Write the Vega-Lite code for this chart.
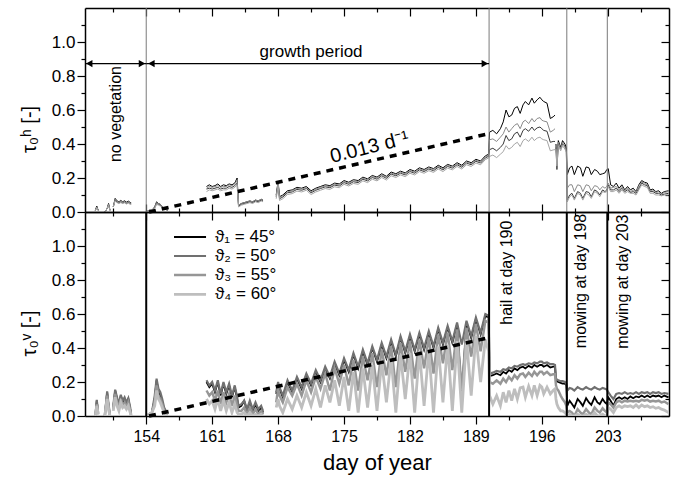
{
"$schema":"https://vega.github.io/schema/vega-lite/v6.json",
"background":"white",
"padding":{"left":19,"top":7,"right":6,"bottom":5},
"spacing":0,
"bounds":"flush",
"config":{"view":{"stroke":null},"font":"Liberation Sans",
"axis":{"domainColor":"black","domainWidth":1.5,"tickColor":"black","tickWidth":1.2,"labelColor":"black","titleColor":"black","grid":false,"labelFont":"Liberation Sans","titleFont":"Liberation Sans","titleFontWeight":"normal"},
"text":{"font":"Liberation Sans","color":"black"}},
"resolve":{"scale":{"color":"independent","strokeWidth":"independent"}},
"datasets":{
"obs":[
{"d":148.6,"h1":0.01,"h2":0.01,"h3":0.01,"h4":0.01,"v1":0,"v2":0,"v3":0,"v4":0},
{"d":148.75,"h1":0.035,"h2":0.03,"h3":0.03,"h4":0.025,"v1":0.09,"v2":0.095,"v3":0.07,"v4":0.06},
{"d":148.9,"h1":0.01,"h2":0.01,"h3":0.01,"h4":0.01,"v1":0.02,"v2":0.02,"v3":0.01,"v4":0.01},
{"d":149.2},
{"d":149.6,"h1":0,"h2":0,"h3":0,"h4":0,"v1":0,"v2":0,"v3":0,"v4":0},
{"d":149.85,"h1":0.02,"h2":0.02,"h3":0.02,"h4":0.02,"v1":0.14,"v2":0.145,"v3":0.12,"v4":0.1},
{"d":150.0,"h1":0.05,"h2":0.045,"h3":0.045,"h4":0.04,"v1":0.06,"v2":0.07,"v3":0.05,"v4":0.04},
{"d":150.15,"h1":0.01,"h2":0.01,"h3":0.01,"h4":0.01,"v1":0,"v2":0.01,"v3":0,"v4":0},
{"d":150.3},
{"d":150.5,"h1":0.03,"h2":0.03,"h3":0.03,"h4":0.03,"v1":0.05,"v2":0.06,"v3":0.04,"v4":0.03},
{"d":150.7,"h1":0.08,"h2":0.07,"h3":0.075,"h4":0.065,"v1":0.15,"v2":0.155,"v3":0.13,"v4":0.11},
{"d":150.9,"h1":0.065,"h2":0.058,"h3":0.062,"h4":0.055,"v1":0.1,"v2":0.11,"v3":0.08,"v4":0.06},
{"d":151.1,"h1":0.06,"h2":0.053,"h3":0.057,"h4":0.05,"v1":0.06,"v2":0.07,"v3":0.05,"v4":0.03},
{"d":151.3,"h1":0.068,"h2":0.06,"h3":0.064,"h4":0.055,"v1":0.12,"v2":0.125,"v3":0.1,"v4":0.08},
{"d":151.5,"h1":0.06,"h2":0.053,"h3":0.057,"h4":0.05,"v1":0.08,"v2":0.09,"v3":0.06,"v4":0.05},
{"d":151.7,"h1":0.066,"h2":0.058,"h3":0.062,"h4":0.054,"v1":0.1,"v2":0.11,"v3":0.08,"v4":0.06},
{"d":151.9,"h1":0.058,"h2":0.05,"h3":0.054,"h4":0.047,"v1":0.07,"v2":0.08,"v3":0.05,"v4":0.04},
{"d":152.1,"h1":0.064,"h2":0.056,"h3":0.06,"h4":0.052,"v1":0.1,"v2":0.105,"v3":0.08,"v4":0.06},
{"d":152.3,"h1":0.056,"h2":0.05,"h3":0.053,"h4":0.045,"v1":0.04,"v2":0.05,"v3":0.03,"v4":0.02},
{"d":152.4,"h1":0.055,"h2":0.048,"h3":0.05,"h4":0.044,"v1":0,"v2":0.01,"v3":0,"v4":0},
{"d":153.0},
{"d":154.0,"h1":0,"h2":0,"h3":0,"h4":0,"v1":0,"v2":0,"v3":0,"v4":0},
{"d":154.3,"h1":0.01,"h2":0.01,"h3":0.01,"h4":0.01,"v1":0.01,"v2":0.01,"v3":0.01,"v4":0.01},
{"d":154.6,"h1":0.01,"h2":0.01,"h3":0.01,"h4":0.01,"v1":0.02,"v2":0.02,"v3":0.02,"v4":0.02},
{"d":154.9,"h1":0.03,"h2":0.025,"h3":0.03,"h4":0.02,"v1":0.1,"v2":0.12,"v3":0.08,"v4":0.06},
{"d":155.1,"h1":0.06,"h2":0.05,"h3":0.055,"h4":0.045,"v1":0.21,"v2":0.22,"v3":0.18,"v4":0.15},
{"d":155.3,"h1":0.05,"h2":0.045,"h3":0.05,"h4":0.04,"v1":0.14,"v2":0.16,"v3":0.12,"v4":0.1},
{"d":155.5,"h1":0.045,"h2":0.04,"h3":0.045,"h4":0.035,"v1":0.12,"v2":0.14,"v3":0.1,"v4":0.08},
{"d":155.7,"h1":0.03,"h2":0.03,"h3":0.03,"h4":0.025,"v1":0.08,"v2":0.1,"v3":0.07,"v4":0.05},
{"d":155.9,"h1":0.02,"h2":0.02,"h3":0.02,"h4":0.02,"v1":0.04,"v2":0.05,"v3":0.03,"v4":0.02},
{"d":156.1,"h1":0.015,"h2":0.015,"h3":0.015,"h4":0.015,"v1":0.02,"v2":0.03,"v3":0.01,"v4":0.01},
{"d":156.3,"h1":0.01,"h2":0.01,"h3":0.01,"h4":0.01,"v1":0.01,"v2":0.01,"v3":0.01,"v4":0.01},
{"d":158.0},
{"d":160.4,"h1":0.15,"h2":0.135,"h3":0.14,"h4":0.12,"v1":0.2,"v2":0.21,"v3":0.15,"v4":0.1},
{"d":160.7,"h1":0.16,"h2":0.14,"h3":0.15,"h4":0.13,"v1":0.17,"v2":0.18,"v3":0.12,"v4":0.07},
{"d":161.0,"h1":0.15,"h2":0.135,"h3":0.145,"h4":0.125,"v1":0.19,"v2":0.2,"v3":0.14,"v4":0.09},
{"d":161.3,"h1":0.155,"h2":0.14,"h3":0.15,"h4":0.13,"v1":0.14,"v2":0.15,"v3":0.09,"v4":0.04},
{"d":161.6,"h1":0.165,"h2":0.145,"h3":0.155,"h4":0.135,"v1":0.2,"v2":0.21,"v3":0.15,"v4":0.1},
{"d":161.9,"h1":0.15,"h2":0.135,"h3":0.145,"h4":0.125,"v1":0.12,"v2":0.13,"v3":0.07,"v4":0.03},
{"d":162.2,"h1":0.16,"h2":0.14,"h3":0.15,"h4":0.13,"v1":0.19,"v2":0.2,"v3":0.14,"v4":0.09},
{"d":162.5,"h1":0.155,"h2":0.14,"h3":0.15,"h4":0.13,"v1":0.13,"v2":0.14,"v3":0.08,"v4":0.03},
{"d":162.8,"h1":0.165,"h2":0.15,"h3":0.16,"h4":0.14,"v1":0.18,"v2":0.19,"v3":0.13,"v4":0.08},
{"d":163.1,"h1":0.16,"h2":0.145,"h3":0.155,"h4":0.135,"v1":0.11,"v2":0.12,"v3":0.06,"v4":0.02},
{"d":163.4,"h1":0.17,"h2":0.155,"h3":0.165,"h4":0.145,"v1":0.17,"v2":0.18,"v3":0.12,"v4":0.07},
{"d":163.65,"h1":0.2,"h2":0.17,"h3":0.19,"h4":0.16,"v1":0.1,"v2":0.11,"v3":0.06,"v4":0.02},
{"d":163.8,"h1":0.04,"h2":0.035,"h3":0.04,"h4":0.03,"v1":0.05,"v2":0.06,"v3":0.03,"v4":0.01},
{"d":164.1,"h1":0.05,"h2":0.045,"h3":0.05,"h4":0.04,"v1":0.06,"v2":0.07,"v3":0.03,"v4":0.01},
{"d":164.4,"h1":0.055,"h2":0.05,"h3":0.055,"h4":0.045,"v1":0.09,"v2":0.09,"v3":0.05,"v4":0.02},
{"d":164.7,"h1":0.06,"h2":0.055,"h3":0.06,"h4":0.05,"v1":0.03,"v2":0.04,"v3":0.01,"v4":0},
{"d":165.0,"h1":0.065,"h2":0.06,"h3":0.065,"h4":0.055,"v1":0.08,"v2":0.09,"v3":0.05,"v4":0.02},
{"d":165.3,"h1":0.06,"h2":0.055,"h3":0.06,"h4":0.05,"v1":0.03,"v2":0.04,"v3":0.01,"v4":0},
{"d":165.6,"h1":0.07,"h2":0.065,"h3":0.07,"h4":0.06,"v1":0.07,"v2":0.08,"v3":0.04,"v4":0.01},
{"d":165.9,"h1":0.065,"h2":0.06,"h3":0.065,"h4":0.055,"v1":0.03,"v2":0.04,"v3":0.01,"v4":0},
{"d":166.2,"h1":0.075,"h2":0.07,"h3":0.075,"h4":0.065,"v1":0.05,"v2":0.06,"v3":0.03,"v4":0.01},
{"d":166.4,"h1":0.07,"h2":0.065,"h3":0.07,"h4":0.06,"v1":0.02,"v2":0.03,"v3":0.01,"v4":0},
{"d":167.0},
{"d":167.8,"h1":0.1,"h2":0.088,"h3":0.094,"h4":0.078,"v1":0.13,"v2":0.14,"v3":0.08,"v4":0.05},
{"d":168.0,"h1":0.18,"h2":0.168,"h3":0.174,"h4":0.158,"v1":0.19,"v2":0.2,"v3":0.16,"v4":0.1},
{"d":168.15,"h1":0.09,"h2":0.078,"h3":0.084,"h4":0.068,"v1":0.16,"v2":0.17,"v3":0.12,"v4":0.06},
{"d":168.5,"h1":0.1,"h2":0.088,"h3":0.094,"h4":0.078,"v1":0.11,"v2":0.12,"v3":0.08,"v4":0.02},
{"d":169.0,"h1":0.125,"h2":0.113,"h3":0.119,"h4":0.103,"v1":0.2,"v2":0.21,"v3":0.17,"v4":0.1},
{"d":169.5,"h1":0.13,"h2":0.118,"h3":0.124,"h4":0.108,"v1":0.14,"v2":0.15,"v3":0.12,"v4":0.04},
{"d":170.0,"h1":0.145,"h2":0.133,"h3":0.139,"h4":0.123,"v1":0.22,"v2":0.23,"v3":0.19,"v4":0.12},
{"d":170.5,"h1":0.14,"h2":0.128,"h3":0.134,"h4":0.118,"v1":0.16,"v2":0.17,"v3":0.12,"v4":0.05},
{"d":171.0,"h1":0.15,"h2":0.138,"h3":0.144,"h4":0.128,"v1":0.24,"v2":0.25,"v3":0.21,"v4":0.14},
{"d":171.5,"h1":0.125,"h2":0.113,"h3":0.119,"h4":0.103,"v1":0.18,"v2":0.19,"v3":0.14,"v4":0.06},
{"d":172.0,"h1":0.14,"h2":0.128,"h3":0.134,"h4":0.118,"v1":0.26,"v2":0.27,"v3":0.23,"v4":0.16},
{"d":172.5,"h1":0.15,"h2":0.138,"h3":0.144,"h4":0.128,"v1":0.2,"v2":0.21,"v3":0.16,"v4":0.05},
{"d":173.0,"h1":0.16,"h2":0.148,"h3":0.154,"h4":0.138,"v1":0.28,"v2":0.29,"v3":0.25,"v4":0.18},
{"d":173.5,"h1":0.155,"h2":0.143,"h3":0.149,"h4":0.133,"v1":0.22,"v2":0.23,"v3":0.15,"v4":0.08},
{"d":174.0,"h1":0.17,"h2":0.158,"h3":0.164,"h4":0.148,"v1":0.31,"v2":0.32,"v3":0.28,"v4":0.21},
{"d":174.5,"h1":0.165,"h2":0.153,"h3":0.159,"h4":0.143,"v1":0.24,"v2":0.25,"v3":0.19,"v4":0.06},
{"d":175.0,"h1":0.185,"h2":0.173,"h3":0.179,"h4":0.163,"v1":0.33,"v2":0.34,"v3":0.3,"v4":0.23},
{"d":175.5,"h1":0.175,"h2":0.163,"h3":0.169,"h4":0.153,"v1":0.26,"v2":0.27,"v3":0.18,"v4":0.03},
{"d":176.0,"h1":0.19,"h2":0.178,"h3":0.184,"h4":0.168,"v1":0.36,"v2":0.37,"v3":0.33,"v4":0.26},
{"d":176.5,"h1":0.185,"h2":0.173,"h3":0.179,"h4":0.163,"v1":0.28,"v2":0.29,"v3":0.15,"v4":0.02},
{"d":177.0,"h1":0.205,"h2":0.193,"h3":0.199,"h4":0.183,"v1":0.38,"v2":0.39,"v3":0.35,"v4":0.28},
{"d":177.5,"h1":0.195,"h2":0.183,"h3":0.189,"h4":0.173,"v1":0.3,"v2":0.31,"v3":0.21,"v4":0.05},
{"d":178.0,"h1":0.215,"h2":0.203,"h3":0.209,"h4":0.193,"v1":0.4,"v2":0.41,"v3":0.37,"v4":0.3},
{"d":178.5,"h1":0.205,"h2":0.193,"h3":0.199,"h4":0.183,"v1":0.32,"v2":0.33,"v3":0.17,"v4":0.03},
{"d":179.0,"h1":0.225,"h2":0.213,"h3":0.219,"h4":0.203,"v1":0.42,"v2":0.43,"v3":0.39,"v4":0.32},
{"d":179.5,"h1":0.21,"h2":0.198,"h3":0.204,"h4":0.188,"v1":0.34,"v2":0.35,"v3":0.24,"v4":0.08},
{"d":180.0,"h1":0.235,"h2":0.223,"h3":0.229,"h4":0.213,"v1":0.44,"v2":0.45,"v3":0.41,"v4":0.34},
{"d":180.5,"h1":0.225,"h2":0.213,"h3":0.219,"h4":0.203,"v1":0.35,"v2":0.36,"v3":0.17,"v4":0.02},
{"d":181.0,"h1":0.24,"h2":0.228,"h3":0.234,"h4":0.218,"v1":0.46,"v2":0.47,"v3":0.43,"v4":0.36},
{"d":181.5,"h1":0.23,"h2":0.218,"h3":0.224,"h4":0.208,"v1":0.37,"v2":0.38,"v3":0.26,"v4":0.1},
{"d":182.0,"h1":0.25,"h2":0.238,"h3":0.244,"h4":0.228,"v1":0.47,"v2":0.48,"v3":0.44,"v4":0.37},
{"d":182.5,"h1":0.24,"h2":0.228,"h3":0.234,"h4":0.218,"v1":0.38,"v2":0.39,"v3":0.22,"v4":0.02},
{"d":183.0,"h1":0.26,"h2":0.248,"h3":0.254,"h4":0.238,"v1":0.48,"v2":0.49,"v3":0.45,"v4":0.38},
{"d":183.5,"h1":0.25,"h2":0.238,"h3":0.244,"h4":0.228,"v1":0.39,"v2":0.4,"v3":0.28,"v4":0.06},
{"d":184.0,"h1":0.265,"h2":0.253,"h3":0.259,"h4":0.243,"v1":0.49,"v2":0.5,"v3":0.46,"v4":0.39},
{"d":184.5,"h1":0.255,"h2":0.243,"h3":0.249,"h4":0.233,"v1":0.4,"v2":0.41,"v3":0.25,"v4":0.02},
{"d":185.0,"h1":0.275,"h2":0.263,"h3":0.269,"h4":0.253,"v1":0.51,"v2":0.52,"v3":0.48,"v4":0.41},
{"d":185.5,"h1":0.26,"h2":0.248,"h3":0.254,"h4":0.238,"v1":0.42,"v2":0.43,"v3":0.31,"v4":0.08},
{"d":186.0,"h1":0.28,"h2":0.268,"h3":0.274,"h4":0.258,"v1":0.52,"v2":0.53,"v3":0.49,"v4":0.42},
{"d":186.5,"h1":0.27,"h2":0.258,"h3":0.264,"h4":0.248,"v1":0.43,"v2":0.44,"v3":0.27,"v4":0.03},
{"d":187.0,"h1":0.29,"h2":0.278,"h3":0.284,"h4":0.268,"v1":0.54,"v2":0.55,"v3":0.51,"v4":0.44},
{"d":187.5,"h1":0.275,"h2":0.263,"h3":0.269,"h4":0.253,"v1":0.12,"v2":0.42,"v3":0.15,"v4":0.02},
{"d":188.0,"h1":0.3,"h2":0.288,"h3":0.294,"h4":0.278,"v1":0.55,"v2":0.56,"v3":0.52,"v4":0.45},
{"d":188.5,"h1":0.29,"h2":0.278,"h3":0.284,"h4":0.268,"v1":0.46,"v2":0.47,"v3":0.35,"v4":0.12},
{"d":189.0,"h1":0.31,"h2":0.298,"h3":0.304,"h4":0.288,"v1":0.57,"v2":0.58,"v3":0.54,"v4":0.47},
{"d":189.5,"h1":0.3,"h2":0.288,"h3":0.294,"h4":0.278,"v1":0.48,"v2":0.49,"v3":0.38,"v4":0.2},
{"d":190.0,"h1":0.33,"h2":0.318,"h3":0.324,"h4":0.308,"v1":0.59,"v2":0.6,"v3":0.56,"v4":0.45},
{"d":190.35,"h1":0.34,"h2":0.328,"h3":0.334,"h4":0.318,"v1":0.58,"v2":0.59,"v3":0.55,"v4":0.38},
{"d":190.45,"h1":0.47,"h2":0.367,"h3":0.425,"h4":0.327,"v1":0.235,"v2":0.25,"v3":0.2,"v4":0.12},
{"d":190.8,"h1":0.48,"h2":0.375,"h3":0.43,"h4":0.335,"v1":0.24,"v2":0.255,"v3":0.19,"v4":0.07},
{"d":191.2,"h1":0.46,"h2":0.36,"h3":0.415,"h4":0.32,"v1":0.25,"v2":0.265,"v3":0.21,"v4":0.12},
{"d":191.6,"h1":0.49,"h2":0.38,"h3":0.44,"h4":0.34,"v1":0.24,"v2":0.26,"v3":0.19,"v4":0.06},
{"d":191.9,"h1":0.53,"h2":0.4,"h3":0.46,"h4":0.355,"v1":0.26,"v2":0.275,"v3":0.22,"v4":0.14},
{"d":192.2,"h1":0.6,"h2":0.45,"h3":0.5,"h4":0.39,"v1":0.25,"v2":0.27,"v3":0.2,"v4":0.08},
{"d":192.5,"h1":0.56,"h2":0.42,"h3":0.47,"h4":0.37,"v1":0.27,"v2":0.285,"v3":0.23,"v4":0.15},
{"d":192.8,"h1":0.57,"h2":0.43,"h3":0.49,"h4":0.38,"v1":0.26,"v2":0.28,"v3":0.21,"v4":0.09},
{"d":193.1,"h1":0.61,"h2":0.46,"h3":0.51,"h4":0.4,"v1":0.28,"v2":0.295,"v3":0.24,"v4":0.16},
{"d":193.4,"h1":0.62,"h2":0.47,"h3":0.52,"h4":0.41,"v1":0.27,"v2":0.29,"v3":0.22,"v4":0.1},
{"d":193.7,"h1":0.58,"h2":0.44,"h3":0.49,"h4":0.385,"v1":0.285,"v2":0.3,"v3":0.245,"v4":0.165},
{"d":194.0,"h1":0.63,"h2":0.48,"h3":0.53,"h4":0.42,"v1":0.29,"v2":0.305,"v3":0.25,"v4":0.17},
{"d":194.25,"h1":0.65,"h2":0.49,"h3":0.54,"h4":0.43,"v1":0.28,"v2":0.3,"v3":0.23,"v4":0.11},
{"d":194.6,"h1":0.63,"h2":0.475,"h3":0.52,"h4":0.415,"v1":0.295,"v2":0.31,"v3":0.255,"v4":0.175},
{"d":194.95,"h1":0.67,"h2":0.5,"h3":0.55,"h4":0.44,"v1":0.285,"v2":0.305,"v3":0.235,"v4":0.12},
{"d":195.2,"h1":0.64,"h2":0.48,"h3":0.53,"h4":0.42,"v1":0.3,"v2":0.315,"v3":0.26,"v4":0.18},
{"d":195.5,"h1":0.66,"h2":0.495,"h3":0.55,"h4":0.435,"v1":0.29,"v2":0.31,"v3":0.24,"v4":0.12},
{"d":195.8,"h1":0.675,"h2":0.5,"h3":0.555,"h4":0.44,"v1":0.3,"v2":0.32,"v3":0.26,"v4":0.18},
{"d":196.0,"h1":0.66,"h2":0.49,"h3":0.54,"h4":0.43,"v1":0.3,"v2":0.32,"v3":0.26,"v4":0.17},
{"d":196.2,"h1":0.65,"h2":0.48,"h3":0.535,"h4":0.425,"v1":0.29,"v2":0.31,"v3":0.245,"v4":0.13},
{"d":196.55,"h1":0.64,"h2":0.475,"h3":0.53,"h4":0.42,"v1":0.3,"v2":0.315,"v3":0.26,"v4":0.17},
{"d":196.9,"h1":0.55,"h2":0.41,"h3":0.47,"h4":0.36,"v1":0.285,"v2":0.305,"v3":0.24,"v4":0.13},
{"d":197.2,"h1":0.56,"h2":0.415,"h3":0.48,"h4":0.365,"v1":0.29,"v2":0.305,"v3":0.245,"v4":0.15},
{"d":197.4,"h1":0.57,"h2":0.415,"h3":0.49,"h4":0.367,"v1":0.29,"v2":0.3,"v3":0.245,"v4":0.16},
{"d":197.45,"v1":0.25,"v2":0.26,"v3":0.21,"v4":0.13},
{"d":197.5,"h1":0.4,"h2":0.38,"h3":0.39,"h4":0.37,"v1":0.21,"v2":0.22,"v3":0.18,"v4":0.1},
{"d":197.6,"h1":0.3,"h2":0.25,"h3":0.28,"h4":0.27,"v1":0.205,"v2":0.215,"v3":0.16,"v4":0.07},
{"d":197.75,"h1":0.42,"h2":0.4,"h3":0.41,"h4":0.39,"v1":0.2,"v2":0.21,"v3":0.15,"v4":0.05},
{"d":198.0,"h1":0.38,"h2":0.37,"h3":0.37,"h4":0.36,"v1":0.195,"v2":0.205,"v3":0.12,"v4":0.03},
{"d":198.2,"h1":0.42,"h2":0.4,"h3":0.41,"h4":0.39,"v1":0.19,"v2":0.205,"v3":0.1,"v4":0.03},
{"d":198.45,"h1":0.4,"h2":0.39,"h3":0.38,"h4":0.37,"v1":0.19,"v2":0.2,"v3":0.08,"v4":0.02},
{"d":198.6,"h1":0.38,"h2":0.36,"h3":0.36,"h4":0.35,"v1":0.18,"v2":0.19,"v3":0.06,"v4":0.01},
{"d":198.7,"h1":0.22,"h2":0.07,"h3":0.14,"h4":0.06,"v1":0.06,"v2":0.15,"v3":0.02,"v4":0},
{"d":198.95,"h1":0.26,"h2":0.1,"h3":0.16,"h4":0.09,"v1":0.09,"v2":0.165,"v3":0.03,"v4":0.01},
{"d":199.2,"h1":0.27,"h2":0.11,"h3":0.16,"h4":0.1,"v1":0.07,"v2":0.16,"v3":0.02,"v4":0},
{"d":199.45,"h1":0.22,"h2":0.08,"h3":0.12,"h4":0.07,"v1":0.05,"v2":0.15,"v3":0,"v4":0},
{"d":199.8,"h1":0.27,"h2":0.12,"h3":0.16,"h4":0.11,"v1":0.1,"v2":0.17,"v3":0.04,"v4":0.01},
{"d":200.1,"h1":0.26,"h2":0.11,"h3":0.155,"h4":0.1,"v1":0.08,"v2":0.16,"v3":0.02,"v4":0},
{"d":200.35,"h1":0.21,"h2":0.08,"h3":0.12,"h4":0.07,"v1":0.06,"v2":0.155,"v3":0.01,"v4":0},
{"d":200.7,"h1":0.265,"h2":0.12,"h3":0.16,"h4":0.11,"v1":0.105,"v2":0.17,"v3":0.04,"v4":0.01},
{"d":201.0,"h1":0.26,"h2":0.115,"h3":0.155,"h4":0.1,"v1":0.08,"v2":0.16,"v3":0.02,"v4":0},
{"d":201.25,"h1":0.22,"h2":0.09,"h3":0.125,"h4":0.08,"v1":0.065,"v2":0.155,"v3":0.01,"v4":0},
{"d":201.6,"h1":0.25,"h2":0.13,"h3":0.155,"h4":0.12,"v1":0.11,"v2":0.17,"v3":0.05,"v4":0.02},
{"d":201.9,"h1":0.24,"h2":0.12,"h3":0.15,"h4":0.11,"v1":0.08,"v2":0.16,"v3":0.03,"v4":0},
{"d":202.15,"h1":0.22,"h2":0.1,"h3":0.13,"h4":0.09,"v1":0.07,"v2":0.155,"v3":0.02,"v4":0},
{"d":202.45,"h1":0.225,"h2":0.13,"h3":0.15,"h4":0.12,"v1":0.1,"v2":0.165,"v3":0.045,"v4":0.01},
{"d":202.7,"h1":0.23,"h2":0.12,"h3":0.14,"h4":0.115,"v1":0.08,"v2":0.16,"v3":0.03,"v4":0},
{"d":202.9,"h1":0.25,"h2":0.13,"h3":0.15,"h4":0.12,"v1":0.07,"v2":0.155,"v3":0.02,"v4":0},
{"d":203.05,"h1":0.255,"h2":0.16,"h3":0.17,"h4":0.15,"v1":0.11,"v2":0.14,"v3":0.08,"v4":0.05},
{"d":203.3,"h1":0.16,"h2":0.13,"h3":0.14,"h4":0.12,"v1":0.09,"v2":0.12,"v3":0.07,"v4":0.04},
{"d":203.6,"h1":0.15,"h2":0.13,"h3":0.145,"h4":0.12,"v1":0.06,"v2":0.1,"v3":0.05,"v4":0.02},
{"d":203.9,"h1":0.17,"h2":0.14,"h3":0.15,"h4":0.13,"v1":0.1,"v2":0.13,"v3":0.08,"v4":0.05},
{"d":204.2,"h1":0.14,"h2":0.12,"h3":0.13,"h4":0.11,"v1":0.11,"v2":0.135,"v3":0.09,"v4":0.06},
{"d":204.5,"h1":0.16,"h2":0.14,"h3":0.15,"h4":0.13,"v1":0.1,"v2":0.13,"v3":0.08,"v4":0.05},
{"d":204.8,"h1":0.13,"h2":0.12,"h3":0.125,"h4":0.11,"v1":0.11,"v2":0.14,"v3":0.09,"v4":0.06},
{"d":205.1,"h1":0.15,"h2":0.13,"h3":0.14,"h4":0.12,"v1":0.1,"v2":0.13,"v3":0.085,"v4":0.055},
{"d":205.4,"h1":0.13,"h2":0.115,"h3":0.12,"h4":0.11,"v1":0.115,"v2":0.135,"v3":0.09,"v4":0.06},
{"d":205.7,"h1":0.14,"h2":0.12,"h3":0.13,"h4":0.11,"v1":0.105,"v2":0.13,"v3":0.085,"v4":0.05},
{"d":206.0,"h1":0.12,"h2":0.11,"h3":0.115,"h4":0.1,"v1":0.115,"v2":0.14,"v3":0.09,"v4":0.065},
{"d":206.3,"h1":0.16,"h2":0.14,"h3":0.155,"h4":0.13,"v1":0.11,"v2":0.13,"v3":0.085,"v4":0.05},
{"d":206.6,"h1":0.185,"h2":0.17,"h3":0.175,"h4":0.16,"v1":0.12,"v2":0.14,"v3":0.095,"v4":0.065},
{"d":206.9,"h1":0.175,"h2":0.16,"h3":0.17,"h4":0.15,"v1":0.11,"v2":0.135,"v3":0.09,"v4":0.055},
{"d":207.2,"h1":0.17,"h2":0.155,"h3":0.16,"h4":0.145,"v1":0.12,"v2":0.14,"v3":0.095,"v4":0.06},
{"d":207.5,"h1":0.13,"h2":0.12,"h3":0.125,"h4":0.11,"v1":0.11,"v2":0.13,"v3":0.085,"v4":0.05},
{"d":207.8,"h1":0.135,"h2":0.12,"h3":0.13,"h4":0.11,"v1":0.12,"v2":0.14,"v3":0.09,"v4":0.055},
{"d":208.1,"h1":0.12,"h2":0.11,"h3":0.115,"h4":0.1,"v1":0.115,"v2":0.135,"v3":0.085,"v4":0.045},
{"d":208.4,"h1":0.125,"h2":0.11,"h3":0.12,"h4":0.1,"v1":0.12,"v2":0.14,"v3":0.09,"v4":0.05},
{"d":208.7,"h1":0.11,"h2":0.1,"h3":0.105,"h4":0.095,"v1":0.11,"v2":0.13,"v3":0.08,"v4":0.04},
{"d":209.0,"h1":0.12,"h2":0.105,"h3":0.115,"h4":0.1,"v1":0.12,"v2":0.135,"v3":0.085,"v4":0.035},
{"d":209.45,"h1":0.125,"h2":0.11,"h3":0.12,"h4":0.1,"v1":0.11,"v2":0.13,"v3":0.07,"v4":0.02}
],
"events":[{"d":154},{"d":190.4},{"d":198.65},{"d":202.95}],
"trend":[{"d":154.3,"t":0},{"d":190.3,"t":0.46}],
"arrows":[{"a":147.5,"b":154,"y":0.873},{"a":154,"b":190.4,"y":0.873}],
"heads":[{"d":147.95,"y":0.873,"k":"l"},{"d":153.55,"y":0.873,"k":"r"},{"d":154.55,"y":0.873,"k":"l"},{"d":189.95,"y":0.873,"k":"r"}],
"hnote":[{"d":171.5,"y":0.94,"t":"growth period"}],
"vnoteTop":[{"d":150.75,"y":0.576,"t":"no vegetation"}],
"slope":[{"d":177.7,"y":0.38,"t":"0.013 d⁻¹"}],
"vnoteBottom":[{"d":192.35,"y":0.843,"t":"hail at day 190"},{"d":200.2,"y":0.794,"t":"mowing at day 198"},{"d":204.6,"y":0.79,"t":"mowing at day 203"}],
"key":[{"s":"v1","a":156.95,"b":160.35,"y":1.053,"t":"ϑ₁ = 45°"},{"s":"v2","a":156.95,"b":160.35,"y":0.941,"t":"ϑ₂ = 50°"},{"s":"v3","a":156.95,"b":160.35,"y":0.829,"t":"ϑ₃ = 55°"},{"s":"v4","a":156.95,"b":160.35,"y":0.716,"t":"ϑ₄ = 60°"}]
},
"vconcat":[
{
"width":584,"height":204,
"layer":[
{"data":{"name":"obs"},"transform":[{"fold":["h1","h2","h3","h4"],"as":["s","v"]}],
"mark":{"type":"line","invalid":"break-paths-show-domains","strokeWidth":1,"clip":true},
"encoding":{
"x":{"field":"d","type":"quantitative","scale":{"domain":[147.5,209.5],"nice":false,"zero":false},
"axis":{"orient":"bottom","title":null,"labels":false,"values":[150.5,154,157.5,161,164.5,168,171.5,175,178.5,182,185.5,189,192.5,196,199.5,203,206.5],"tickSize":{"condition":{"test":"(datum.value-154)%7==0","value":-8},"value":-4}}},
"y":{"field":"v","type":"quantitative","scale":{"domain":[0,1.2],"nice":false},
"axis":{"orient":"left","title":"τ₀ʰ [-]","titleFontSize":20,"titleY":121,"titleX":-46,"titleBaseline":"bottom","labelFontSize":17,"labelPadding":2,"values":[0,0.1,0.2,0.3,0.4,0.5,0.6,0.7,0.8,0.9,1.0,1.1],"labelExpr":"round(datum.value*10)%2==0 ? format(datum.value,'.1f') : ''","tickSize":{"condition":{"test":"round(datum.value*10)%2==0","value":8},"value":4}}},
"color":{"field":"s","type":"nominal","scale":{"domain":["h1","h2","h3","h4"],"range":["#000000","#3a3a3a","#8a8a8a","#a5a5a5"]},"legend":null}
}},
{"data":{"name":"events"},"mark":{"type":"rule","color":"#7a7a7a","strokeWidth":1},
"encoding":{"x":{"field":"d","type":"quantitative","scale":{"domain":[147.5,209.5],"nice":false,"zero":false},
"axis":{"orient":"top","title":null,"labels":false,"values":[150.5,154,157.5,161,164.5,168,171.5,175,178.5,182,185.5,189,192.5,196,199.5,203,206.5],"tickSize":{"condition":{"test":"(datum.value-154)%7==0","value":-8},"value":-4}}}}},
{"data":{"name":"trend"},"mark":{"type":"line","color":"black","strokeWidth":3.5,"strokeDash":[7,6]},
"encoding":{"x":{"field":"d","type":"quantitative","scale":{"domain":[147.5,209.5],"nice":false,"zero":false},"axis":null},
"y":{"field":"t","type":"quantitative","scale":{"domain":[0,1.2],"nice":false},
"axis":{"orient":"right","title":null,"labels":false,"values":[0,0.1,0.2,0.3,0.4,0.5,0.6,0.7,0.8,0.9,1.0,1.1],"tickSize":{"condition":{"test":"round(datum.value*10)%2==0","value":-8},"value":-4}}}}},
{"data":{"name":"arrows"},"mark":{"type":"rule","color":"black","strokeWidth":1.2},
"encoding":{"x":{"field":"a","type":"quantitative","scale":{"domain":[147.5,209.5],"nice":false,"zero":false},"axis":null},"x2":{"field":"b"},
"y":{"field":"y","type":"quantitative","scale":{"domain":[0,1.2],"nice":false},"axis":null}}},
{"data":{"name":"heads"},"mark":{"type":"point","filled":true,"color":"black","opacity":1,"size":55},
"encoding":{"x":{"field":"d","type":"quantitative","scale":{"domain":[147.5,209.5],"nice":false,"zero":false},"axis":null},
"y":{"field":"y","type":"quantitative","scale":{"domain":[0,1.2],"nice":false},"axis":null},
"shape":{"field":"k","type":"nominal","scale":{"domain":["l","r"],"range":["triangle-left","triangle-right"]},"legend":null}}},
{"data":{"name":"hnote"},"mark":{"type":"text","fontSize":17,"align":"center","baseline":"middle"},
"encoding":{"x":{"field":"d","type":"quantitative","scale":{"domain":[147.5,209.5],"nice":false,"zero":false},"axis":null},
"y":{"field":"y","type":"quantitative","scale":{"domain":[0,1.2],"nice":false},"axis":null},"text":{"field":"t"}}},
{"data":{"name":"vnoteTop"},"mark":{"type":"text","fontSize":16,"align":"center","baseline":"middle","angle":270},
"encoding":{"x":{"field":"d","type":"quantitative","scale":{"domain":[147.5,209.5],"nice":false,"zero":false},"axis":null},
"y":{"field":"y","type":"quantitative","scale":{"domain":[0,1.2],"nice":false},"axis":null},"text":{"field":"t"}}},
{"data":{"name":"slope"},"mark":{"type":"text","fontSize":20,"align":"center","baseline":"middle","angle":-14},
"encoding":{"x":{"field":"d","type":"quantitative","scale":{"domain":[147.5,209.5],"nice":false,"zero":false},"axis":null},
"y":{"field":"y","type":"quantitative","scale":{"domain":[0,1.2],"nice":false},"axis":null},"text":{"field":"t"}}}
],
"resolve":{"axis":{"x":"independent","y":"independent"}}
},
{
"width":584,"height":204,
"layer":[
{"data":{"name":"obs"},"transform":[{"fold":["v1","v2","v3","v4"],"as":["s","v"]}],
"mark":{"type":"line","invalid":"break-paths-show-domains","clip":true},
"encoding":{
"x":{"field":"d","type":"quantitative","scale":{"domain":[147.5,209.5],"nice":false,"zero":false},
"axis":{"orient":"bottom","title":"day of year","titleFontSize":22,"titlePadding":8,"labelFontSize":16,"labelPadding":4,"values":[150.5,154,157.5,161,164.5,168,171.5,175,178.5,182,185.5,189,192.5,196,199.5,203,206.5],"labelExpr":"(datum.value-154)%7==0 ? datum.label : ''","tickSize":{"condition":{"test":"(datum.value-154)%7==0","value":8},"value":4}}},
"y":{"field":"v","type":"quantitative","scale":{"domain":[0,1.2],"nice":false},
"axis":{"orient":"left","title":"τ₀ᵛ [-]","titleFontSize":20,"titleY":121,"titleX":-46,"titleBaseline":"bottom","labelFontSize":17,"labelPadding":2,"values":[0,0.1,0.2,0.3,0.4,0.5,0.6,0.7,0.8,0.9,1.0,1.1],"labelExpr":"round(datum.value*10)%2==0 ? format(datum.value,'.1f') : ''","tickSize":{"condition":{"test":"round(datum.value*10)%2==0","value":8},"value":4}}},
"color":{"field":"s","type":"nominal","scale":{"domain":["v1","v2","v3","v4"],"range":["#000000","#707070","#969696","#bebebe"]},"legend":null},
"strokeWidth":{"field":"s","type":"nominal","scale":{"domain":["v1","v2","v3","v4"],"range":[1.8,2.8,0.9,0.9]},"legend":null}
}},
{"data":{"name":"key"},"mark":{"type":"rule"},
"encoding":{"x":{"field":"a","type":"quantitative","scale":{"domain":[147.5,209.5],"nice":false,"zero":false},"axis":null},"x2":{"field":"b"},
"y":{"field":"y","type":"quantitative","scale":{"domain":[0,1.2],"nice":false},"axis":null},
"color":{"field":"s","type":"nominal","legend":null},
"strokeWidth":{"field":"s","type":"nominal","legend":null}}},
{"data":{"name":"key"},"mark":{"type":"text","fontSize":17,"align":"left","baseline":"middle","dx":9},
"encoding":{"x":{"field":"b","type":"quantitative","scale":{"domain":[147.5,209.5],"nice":false,"zero":false},"axis":null},
"y":{"field":"y","type":"quantitative","scale":{"domain":[0,1.2],"nice":false},"axis":null},"text":{"field":"t"}}},
{"data":{"name":"events"},"mark":{"type":"rule","color":"black","strokeWidth":2},
"encoding":{"x":{"field":"d","type":"quantitative","scale":{"domain":[147.5,209.5],"nice":false,"zero":false},
"axis":{"orient":"top","title":null,"labels":false,"values":[150.5,154,157.5,161,164.5,168,171.5,175,178.5,182,185.5,189,192.5,196,199.5,203,206.5],"tickSize":{"condition":{"test":"(datum.value-154)%7==0","value":-8},"value":-4}}}}},
{"data":{"name":"trend"},"mark":{"type":"line","color":"black","strokeWidth":3.5,"strokeDash":[7,6]},
"encoding":{"x":{"field":"d","type":"quantitative","scale":{"domain":[147.5,209.5],"nice":false,"zero":false},"axis":null},
"y":{"field":"t","type":"quantitative","scale":{"domain":[0,1.2],"nice":false},
"axis":{"orient":"right","title":null,"labels":false,"values":[0,0.1,0.2,0.3,0.4,0.5,0.6,0.7,0.8,0.9,1.0,1.1],"tickSize":{"condition":{"test":"round(datum.value*10)%2==0","value":-8},"value":-4}}}}},
{"data":{"name":"vnoteBottom"},"mark":{"type":"text","fontSize":16,"align":"center","baseline":"middle","angle":270},
"encoding":{"x":{"field":"d","type":"quantitative","scale":{"domain":[147.5,209.5],"nice":false,"zero":false},"axis":null},
"y":{"field":"y","type":"quantitative","scale":{"domain":[0,1.2],"nice":false},"axis":null},"text":{"field":"t"}}}
],
"resolve":{"axis":{"x":"independent","y":"independent"}}
}
]
}
